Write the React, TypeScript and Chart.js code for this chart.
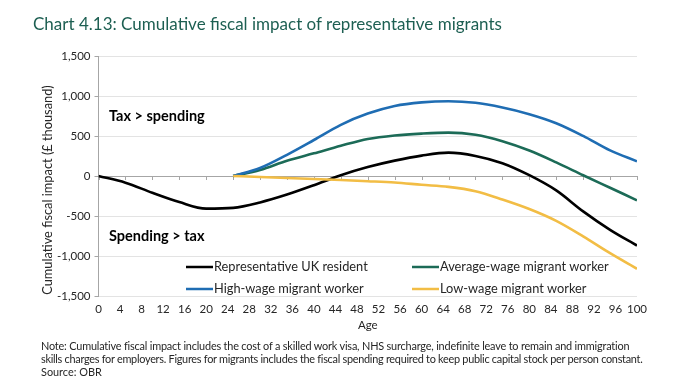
import React, { useEffect, useRef, useState } from "react";
import { Chart, registerables } from "chart.js";

Chart.register(...registerables);

const AGES = [0, 5, 10, 15, 20, 25, 30, 35, 40, 45, 50, 55, 60, 65, 70, 75, 80, 85, 90, 95, 100];
const UK_RESIDENT = [0, -83, -210, -326, -408, -398, -330, -232, -115, 10, 112, 192, 255, 292, 251, 160, 10, -180, -442, -673, -870];
const AVERAGE_WAGE = [null, null, null, null, null, 0, 75, 190, 283, 378, 463, 507, 530, 542, 515, 435, 318, 170, 10, -147, -304];
const HIGH_WAGE = [null, null, null, null, null, 0, 100, 265, 450, 640, 780, 875, 920, 935, 915, 856, 773, 660, 501, 320, 184];
const LOW_WAGE = [null, null, null, null, null, 0, -12, -25, -37, -50, -65, -82, -110, -136, -190, -293, -412, -560, -754, -965, -1160];

const SERIES_NAMES = [
  "Representative UK resident",
  "Average-wage migrant worker",
  "High-wage migrant worker",
  "Low-wage migrant worker",
];
const SERIES_COLORS = ["#000000", "#1c6b57", "#1f6db3", "#f2bd45"];

const Y_MIN = -1500;
const Y_MAX = 1500;
const Y_STEP = 500;
const X_MIN = 0;
const X_MAX = 100;
const X_LABEL_STEP = 4;
const X_TICKMARK_STEP = 5;

const TITLE = "Chart 4.13: Cumulative fiscal impact of representative migrants";
const Y_TITLE = "Cumulative fiscal impact (£ thousand)";
const X_TITLE = "Age";
const UPPER_NOTE = "Tax > spending";
const LOWER_NOTE = "Spending > tax";
const NOTE_LINES = [
  "Note: Cumulative fiscal impact includes the cost of a skilled work visa, NHS surcharge, indefinite leave to remain and immigration",
  "skills charges for employers. Figures for migrants includes the fiscal spending required to keep public capital stock per person constant.",
  "Source: OBR",
];
const NOTE_WIDTHS = [589, 602, 0];

const FONT = "Lato, 'Noto Sans', sans-serif";
const TEXT_COLOR = "#262626";
const AXIS_COLOR = "#a6a6a6";
const GRID_COLOR = "#e3e3e3";
const NOTE_FONT_SIZE = 10.9;

const decorPlugin = {
  id: "decor",
  beforeDatasetsDraw(chart: any) {
    const { ctx, scales } = chart;
    const xs = scales.x;
    const ys = scales.y;
    const y0 = ys.getPixelForValue(0);
    ctx.save();
    ctx.strokeStyle = AXIS_COLOR;
    ctx.lineWidth = 1;
    for (let a = X_MIN; a <= X_MAX; a += X_TICKMARK_STEP) {
      const x = Math.round(xs.getPixelForValue(a)) + 0.5;
      ctx.beginPath();
      ctx.moveTo(x, y0);
      ctx.lineTo(x, y0 + 4);
      ctx.stroke();
    }
    ctx.restore();
  },
  afterDraw(chart: any) {
    const { ctx, chartArea, scales } = chart;
    const ys = scales.y;
    ctx.save();
    ctx.fillStyle = "#000";
    ctx.font = `bold 14.5px ${FONT}`;
    ctx.textBaseline = "middle";
    ctx.textAlign = "left";
    ctx.fillText(UPPER_NOTE, chartArea.left + 10.5, ys.getPixelForValue(750));
    ctx.fillText(LOWER_NOTE, chartArea.left + 10.5, ys.getPixelForValue(-750));

    ctx.save();
    ctx.translate(48, (chartArea.top + chartArea.bottom) / 2 + 14);
    ctx.rotate(-Math.PI / 2);
    ctx.font = `12.8px ${FONT}`;
    ctx.fillStyle = TEXT_COLOR;
    ctx.textAlign = "center";
    ctx.textBaseline = "middle";
    ctx.fillText(Y_TITLE, 0, 0);
    ctx.restore();

    const colX = [chartArea.left + 87.5, chartArea.left + 313.5];
    const rowY = [chartArea.bottom - 29, chartArea.bottom - 7];
    ctx.font = `12.8px ${FONT}`;
    ctx.textBaseline = "middle";
    chart.data.datasets.forEach((ds: any, i: number) => {
      const cx = colX[i % 2];
      const cy = rowY[Math.floor(i / 2)];
      ctx.strokeStyle = ds.borderColor;
      ctx.lineWidth = 2.5;
      ctx.beginPath();
      ctx.moveTo(cx, cy);
      ctx.lineTo(cx + 27, cy);
      ctx.stroke();
      ctx.fillStyle = TEXT_COLOR;
      ctx.fillText(ds.label, cx + 28, cy);
    });
    ctx.restore();
  },
};

export default function App() {
  const ref = useRef<HTMLCanvasElement | null>(null);
  const [spacings, setSpacings] = useState<number[]>([0, 0, 0]);

  useEffect(() => {
    const c = document.createElement("canvas");
    const cx = c.getContext("2d");
    if (!cx) return;
    cx.font = `${NOTE_FONT_SIZE}px ${FONT}`;
    setSpacings(
      NOTE_LINES.map((l, i) => {
        if (!NOTE_WIDTHS[i]) return 0;
        const w = cx.measureText(l).width;
        return (NOTE_WIDTHS[i] - w) / l.length;
      })
    );
  }, []);

  useEffect(() => {
    if (!ref.current) return;
    const seriesValues = [UK_RESIDENT, AVERAGE_WAGE, HIGH_WAGE, LOW_WAGE];
    const chart = new Chart(ref.current, {
      type: "line",
      data: {
        datasets: seriesValues.map((vals, i) => ({
          label: SERIES_NAMES[i],
          data: AGES.map((a, j) => ({ x: a, y: vals[j] })),
          borderColor: SERIES_COLORS[i],
          backgroundColor: SERIES_COLORS[i],
          borderWidth: 2.6,
          pointRadius: 0,
          cubicInterpolationMode: "monotone",
          fill: false,
          spanGaps: false,
          order: 4 - i,
        })),
      },
      options: {
        responsive: false,
        animation: false,
        layout: { padding: { left: 37.5, right: 43, top: 56, bottom: 48 } },
        plugins: {
          legend: { display: false },
          title: { display: false },
          tooltip: { enabled: false },
        },
        scales: {
          x: {
            type: "linear",
            min: X_MIN,
            max: X_MAX,
            grid: { display: false, drawTicks: false },
            border: { display: false },
            ticks: {
              stepSize: X_LABEL_STEP,
              autoSkip: false,
              maxRotation: 0,
              padding: 6,
              color: TEXT_COLOR,
              font: { family: FONT, size: 11.5 },
            },
            title: {
              display: true,
              text: X_TITLE,
              color: TEXT_COLOR,
              font: { family: FONT, size: 11.5 },
              padding: { top: 2, bottom: 4 },
            },
            afterFit(scale: any) {
              scale.height = 40;
            },
          },
          y: {
            min: Y_MIN,
            max: Y_MAX,
            grid: {
              color: (c: any) => (c.tick && c.tick.value === 0 ? AXIS_COLOR : GRID_COLOR),
              tickColor: AXIS_COLOR,
              tickLength: 4,
              drawTicks: true,
            },
            border: { display: true, color: AXIS_COLOR, width: 1 },
            ticks: {
              stepSize: Y_STEP,
              padding: 4,
              color: TEXT_COLOR,
              font: { family: FONT, size: 11.5 },
              callback: (v: any) => Number(v).toLocaleString("en-US"),
            },
            afterFit(scale: any) {
              scale.width = 61;
            },
          },
        },
      },
      plugins: [decorPlugin],
    });
    return () => chart.destroy();
  }, []);

  return (
    <div style={{ position: "fixed", left: 0, top: 0, width: 680, height: 384, background: "#fff", overflow: "hidden" }}>
      <canvas ref={ref} width={680} height={384} style={{ position: "absolute", left: 0, top: 0 }} />
      <div
        style={{
          position: "absolute",
          left: 33,
          top: 14,
          fontFamily: FONT,
          fontSize: 17,
          lineHeight: "20px",
          color: "#1d5f52",
          whiteSpace: "nowrap",
        }}
      >
        {TITLE}
      </div>
      <div
        style={{
          position: "absolute",
          left: 41,
          top: 339,
          fontFamily: FONT,
          fontSize: NOTE_FONT_SIZE,
          lineHeight: "13px",
          color: TEXT_COLOR,
          whiteSpace: "nowrap",
        }}
      >
        {NOTE_LINES.map((l, i) => (
          <div key={i} style={{ letterSpacing: `${spacings[i]}px` }}>
            {l}
          </div>
        ))}
      </div>
    </div>
  );
}
